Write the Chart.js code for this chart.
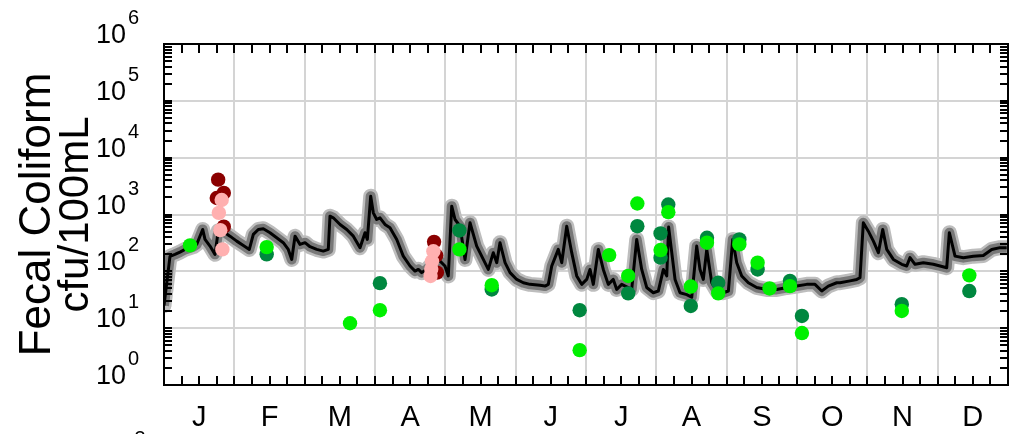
<!DOCTYPE html>
<html>
<head>
<meta charset="utf-8">
<script src="https://cdn.jsdelivr.net/npm/chart.js@4"></script>
<style>
  html, body { margin: 0; padding: 0; background: #fff; }
  #wrap { width: 1016px; height: 434px; }
</style>
</head>
<body>
<div id="wrap"><canvas id="fcChart" width="1016" height="434"></canvas></div>
<script>
// month letters, shown at the middle of each month
const monthLabels = ['J', 'F', 'M', 'A', 'M', 'J', 'J', 'A', 'S', 'O', 'N', 'D'];
const decades = [0, 1, 2, 3, 4, 5, 6];

// simulated fecal coliform (x in months from Jan 1, y in cfu/100mL)
const modelMonth = [
  0.00, 0.085, 0.156, 0.227, 0.299, 0.417, 0.465, 0.550, 0.583, 0.654, 0.725, 0.772, 0.867, 0.938,
  1.034, 1.128, 1.213, 1.270, 1.341, 1.412, 1.507, 1.602, 1.696, 1.767, 1.816, 1.863, 1.934,
  2.005, 2.076, 2.171, 2.265, 2.336, 2.360, 2.407, 2.503, 2.598, 2.692, 2.787, 2.858, 2.891, 2.939, 2.976,
  3.024, 3.071, 3.142, 3.213, 3.309, 3.402, 3.498, 3.569, 3.616, 3.664, 3.735, 3.782, 3.900, 3.995,
  4.042, 4.091, 4.138, 4.209, 4.280, 4.351, 4.446, 4.540, 4.611, 4.682, 4.731, 4.777, 4.849, 4.920,
  5.015, 5.109, 5.204, 5.346, 5.417, 5.464, 5.513, 5.560, 5.606, 5.655, 5.726, 5.797, 5.868, 5.939,
  6.010, 6.057, 6.104, 6.175, 6.246, 6.317, 6.388, 6.437, 6.508, 6.650, 6.721, 6.792, 6.863, 6.957,
  7.028, 7.100, 7.148, 7.175, 7.266, 7.337, 7.432, 7.503, 7.574, 7.621, 7.668, 7.717, 7.788, 7.859, 7.953,
  8.024, 8.086, 8.143, 8.214, 8.308, 8.427, 8.570, 8.712, 8.854, 8.996,
  9.138, 9.256, 9.352, 9.445, 9.565, 9.612, 9.754, 9.850, 9.896, 9.943,
  10.014, 10.086, 10.157, 10.219, 10.276, 10.370, 10.489, 10.560, 10.607, 10.678, 10.796, 10.938,
  11.034, 11.129, 11.166, 11.247, 11.365, 11.507, 11.649, 11.769, 11.887, 11.982
];
const modelValue = [
  25, 183, 199, 218, 243, 271, 298, 546, 364, 278, 199, 520, 478, 416,
  340, 286, 243, 446, 546, 561, 478, 390, 319, 243, 162, 416, 298,
  319, 271, 243, 227, 243, 934, 875, 668, 546, 416, 261, 478, 364, 2094, 1071,
  817, 875, 668, 584, 364, 185, 124, 101, 108, 95, 108, 124, 162, 124,
  83, 1400, 817, 623, 162, 715, 278, 162, 108, 213, 142, 319, 142, 95,
  72, 63, 59, 57, 55, 59, 124, 174, 243, 142, 623, 213, 83, 59,
  72, 108, 59, 243, 108, 59, 72, 48, 59, 48, 364, 108, 52, 42,
  45, 108, 83, 600, 72, 42, 39, 35, 278, 108, 72, 243, 63, 45, 42,
  45, 364, 142, 83, 63, 52, 48, 48, 52, 55,
  59, 59, 45, 55, 63, 63, 68, 72, 77, 715,
  509, 340, 213, 546, 243, 162, 133, 124, 174, 133, 142, 133,
  124, 116, 478, 185, 174, 185, 190, 243, 261, 261
];

// observed samples
const darkGreenMonth = [1.46, 3.07, 4.20, 4.66, 5.91, 6.60, 6.73, 7.06, 7.06, 7.17, 7.49, 7.72, 7.88, 8.18, 8.44, 8.90, 9.07, 10.49, 11.45];
const darkGreenValue = [199, 62, 524, 48, 20.7, 41, 623, 464, 174, 1500, 24.6, 390, 63, 364, 108, 68, 16.4, 26.4, 45];

const limeMonth = [0.37, 1.46, 2.645, 3.07, 4.20, 4.66, 5.91, 6.33, 6.60, 6.73, 7.06, 7.17, 7.49, 7.72, 7.88, 8.18, 8.44, 8.61, 8.90, 9.07, 10.49, 11.45];
const limeValue = [286, 267, 12.2, 20.7, 243, 57, 4.1, 193, 83, 1560, 237, 1100, 54, 319, 41, 298, 142, 50, 55, 8.2, 20.1, 85];

const darkRedMonth = [0.77, 0.85, 0.75, 0.85, 3.84, 3.87, 3.88];
const darkRedValue = [4100, 2400, 1950, 610, 330, 190, 95];

const pinkMonth = [0.82, 0.78, 0.80, 0.83, 3.83, 3.81, 3.80, 3.79];
const pinkValue = [1800, 1070, 530, 243, 225, 150, 110, 83];

function pts(xs, ys) {
  return xs.map((x, i) => ({ x: x, y: ys[i] }));
}

const FONT = '"Liberation Sans", Arial, Helvetica, sans-serif';

// border, inward ticks and all the text
const frame = {
  id: 'frame',
  afterDatasetsDraw(chart) {
    const ctx = chart.ctx;
    const a = chart.chartArea;
    const xs = chart.scales.x;
    const ys = chart.scales.y;
    ctx.save();
    ctx.strokeStyle = '#000';
    ctx.lineWidth = 2;
    ctx.beginPath();
    // quarter month ticks top and bottom
    for (let q = 1; q < 48; q++) {
      const x = Math.round(xs.getPixelForValue(q / 4));
      ctx.moveTo(x, a.bottom); ctx.lineTo(x, a.bottom - 9);
      ctx.moveTo(x, a.top); ctx.lineTo(x, a.top + 9);
    }
    // log ticks left and right
    for (let k = 0; k < 6; k++) {
      for (let m = 1; m <= 9; m++) {
        const y = Math.round(ys.getPixelForValue(m * Math.pow(10, k)));
        ctx.moveTo(a.left, y); ctx.lineTo(a.left + 8, y);
        ctx.moveTo(a.right, y); ctx.lineTo(a.right - 8, y);
      }
    }
    ctx.stroke();
    ctx.lineWidth = 2;
    ctx.strokeRect(a.left, a.top, a.right - a.left, a.bottom - a.top);

    ctx.fillStyle = '#000';
    // y tick labels 10^k
    decades.forEach(k => {
      const y = ys.getPixelForValue(Math.pow(10, k));
      ctx.font = '27px ' + FONT;
      ctx.textAlign = 'right';
      ctx.textBaseline = 'alphabetic';
      ctx.fillText('10', 126, y - 1);
      ctx.font = '20px ' + FONT;
      ctx.textAlign = 'left';
      ctx.fillText(String(k), 128, y - 20);
    });
    // month letters
    ctx.font = '29px ' + FONT;
    ctx.textAlign = 'center';
    monthLabels.forEach((lab, i) => {
      ctx.fillText(lab, xs.getPixelForValue(i + 0.5), 426);
    });
    // cut off label from the panel below
    ctx.font = '20px ' + FONT;
    ctx.fillText('3', 140, 445);
    // axis title
    ctx.save();
    ctx.translate(0, (a.top + a.bottom) / 2);
    ctx.rotate(-Math.PI / 2);
    ctx.textAlign = 'center';
    ctx.font = '44px ' + FONT;
    ctx.fillText('Fecal Coliform', 0, 50);
    ctx.font = '42px ' + FONT;
    ctx.fillText('cfu/100mL', 0, 88);
    ctx.restore();
    ctx.restore();
  }
};

const modelPts = pts(modelMonth, modelValue);

new Chart(document.getElementById('fcChart'), {
  type: 'scatter',
  data: {
    datasets: [
      {
        order: 7, data: modelPts, showLine: true, pointRadius: 0,
        borderColor: '#bdbdbd', borderWidth: 15, borderJoinStyle: 'round', borderCapStyle: 'round'
      },
      {
        order: 6, data: modelPts, showLine: true, pointRadius: 0,
        borderColor: '#787878', borderWidth: 10, borderJoinStyle: 'round'
      },
      {
        order: 5, data: modelPts, showLine: true, pointRadius: 0,
        borderColor: '#000000', borderWidth: 3, borderJoinStyle: 'round'
      },
      {
        order: 4, data: pts(darkGreenMonth, darkGreenValue), pointRadius: 7.2, borderWidth: 0,
        backgroundColor: '#00873f'
      },
      {
        order: 3, data: pts(limeMonth, limeValue), pointRadius: 7.2, borderWidth: 0,
        backgroundColor: '#00f000'
      },
      {
        order: 2, data: pts(darkRedMonth, darkRedValue), pointRadius: 7.2, borderWidth: 0,
        backgroundColor: '#8b0000'
      },
      {
        order: 1, data: pts(pinkMonth, pinkValue), pointRadius: 7.2, borderWidth: 0,
        backgroundColor: '#ffb0b0'
      }
    ]
  },
  options: {
    responsive: false,
    devicePixelRatio: 1,
    animation: false,
    layout: { padding: { left: 164, right: 8, top: 44, bottom: 49 } },
    plugins: { legend: { display: false }, tooltip: { enabled: false } },
    scales: {
      x: {
        type: 'linear', min: 0, max: 12,
        ticks: { display: false, stepSize: 1 },
        grid: { color: '#d4d4d4', lineWidth: 2, drawTicks: false },
        border: { display: false },
        afterFit: s => { s.height = 0; }
      },
      y: {
        type: 'logarithmic', min: 1, max: 1e6,
        afterBuildTicks: s => { s.ticks = decades.map(k => ({ value: Math.pow(10, k) })); },
        ticks: { display: false },
        grid: { color: '#d4d4d4', lineWidth: 2, drawTicks: false },
        border: { display: false },
        afterFit: s => { s.width = 0; }
      }
    }
  },
  plugins: [frame]
});
</script>
</body>
</html>
